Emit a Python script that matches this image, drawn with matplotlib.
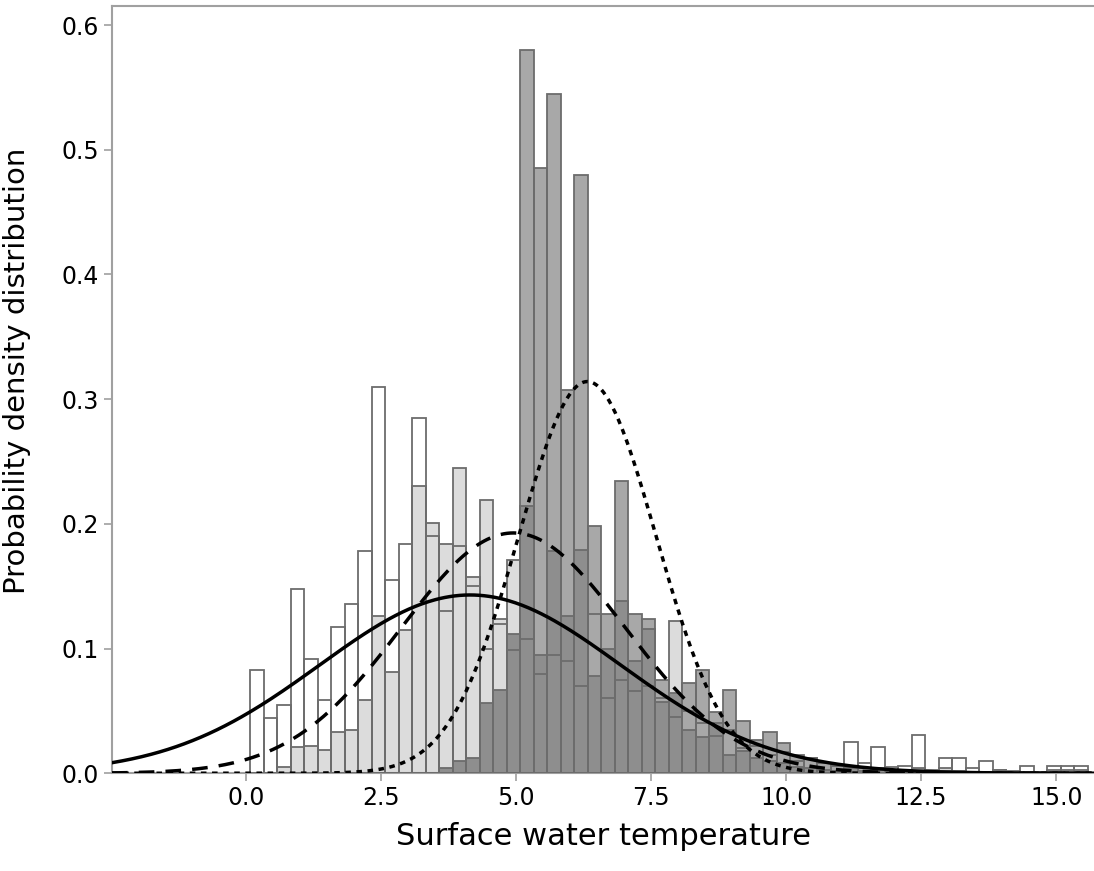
import numpy as np
import matplotlib
matplotlib.use("Agg")
import matplotlib.pyplot as plt

# histogram densities, one value per 0.25-wide bin starting at 0.08
white_density = [
    0.083, 0.044, 0.055, 0.148, 0.092, 0.059, 0.117, 0.136, 0.178, 0.310,
    0.155, 0.184, 0.285, 0.190, 0.130, 0.182, 0.150, 0.100, 0.120, 0.099,
    0.108, 0.080, 0.095, 0.090, 0.070, 0.128, 0.060, 0.075, 0.066, 0.070,
    0.060, 0.045, 0.050, 0.040, 0.030, 0.035, 0.020, 0.022, 0.015, 0.017,
    0.010, 0.012, 0.008, 0.006, 0.025, 0.008, 0.021, 0.005, 0.006, 0.031,
    0.003, 0.012, 0.012, 0.004, 0.010, 0.003, 0.002, 0.006, 0.001, 0.006,
    0.006, 0.006,
]
light_density = [
    0.000, 0.000, 0.005, 0.021, 0.022, 0.019, 0.033, 0.035, 0.059, 0.126,
    0.081, 0.115, 0.230, 0.201, 0.184, 0.245, 0.157, 0.219, 0.124, 0.171,
    0.214, 0.095, 0.178, 0.126, 0.179, 0.078, 0.100, 0.138, 0.090, 0.116,
    0.057, 0.122, 0.035, 0.029, 0.040, 0.015, 0.018, 0.012, 0.010, 0.008,
    0.005, 0.004, 0.003, 0.002, 0.004, 0.002, 0.003, 0.000, 0.000, 0.000,
    0.000, 0.004, 0.000, 0.000, 0.000, 0.003, 0.000, 0.000, 0.000, 0.003,
    0.003, 0.003,
]
dark_density = [
    0.000, 0.000, 0.000, 0.000, 0.000, 0.000, 0.000, 0.000, 0.000, 0.000,
    0.000, 0.000, 0.000, 0.000, 0.004, 0.010, 0.012, 0.056, 0.067, 0.112,
    0.580, 0.485, 0.545, 0.307, 0.480, 0.198, 0.128, 0.234, 0.128, 0.124,
    0.075, 0.064, 0.072, 0.083, 0.049, 0.067, 0.042, 0.027, 0.033, 0.024,
    0.015, 0.012, 0.008, 0.006, 0.005, 0.004, 0.004, 0.003, 0.003, 0.004,
    0.002, 0.002, 0.002, 0.001, 0.001, 0.001, 0.001, 0.001, 0.001, 0.001,
    0.001, 0.001,
]
first_edge = 0.08
bin_width = 0.25

# fitted normal curves (mean, sd)
solid_fit = (4.15, 2.79)
longdash_fit = (4.95, 2.07)
shortdash_fit = (6.32, 1.27)

x_ticks = [0.0, 2.5, 5.0, 7.5, 10.0, 12.5, 15.0]
y_ticks = [0.0, 0.1, 0.2, 0.3, 0.4, 0.5, 0.6]


def normal_pdf(x, mu, sd):
    return np.exp(-0.5 * ((x - mu) / sd) ** 2) / (sd * np.sqrt(2 * np.pi))


fig = plt.figure(figsize=(10.94, 8.71), dpi=100)
ax = fig.add_axes([0.1024, 0.1122, 0.8976, 0.8809])

left = first_edge + bin_width * np.arange(len(white_density))
white = np.array(white_density)
light = np.array(light_density)
dark = np.array(dark_density)
edge = "#6c6c6c"

ax.bar(left, white, width=bin_width, align="edge", color="white", linewidth=0, zorder=1)
ax.bar(left, light, width=bin_width, align="edge", color="#dcdcdc", linewidth=0, zorder=2)
ax.bar(left, dark, width=bin_width, align="edge", color="#a8a8a8", linewidth=0, zorder=3)
# overlap of the two grey groups looks darker
ax.bar(left, np.minimum(light, dark), width=bin_width, align="edge",
       color="#8e8e8e", linewidth=0, zorder=4)
for vals in (white, light, dark):
    ax.bar(left, vals, width=bin_width, align="edge", fill=False,
           edgecolor=edge, linewidth=1.3, zorder=5)

xs = np.linspace(-2.48, 15.7, 600)
ax.plot(xs, normal_pdf(xs, *solid_fit), color="black", lw=2.5, zorder=6)
ax.plot(xs, normal_pdf(xs, *longdash_fit), color="black", lw=2.5,
        dashes=(4.5, 3.2), zorder=6)
ax.plot(xs, normal_pdf(xs, *shortdash_fit), color="black", lw=2.5,
        dashes=(1.6, 1.6), zorder=6)

ax.set_xlim(-2.48, 15.7)
ax.set_ylim(0, 0.6153)
ax.set_xticks(x_ticks)
ax.set_xticklabels([f"{t:.1f}" for t in x_ticks])
ax.set_yticks(y_ticks)
ax.set_yticklabels([f"{t:.1f}" for t in y_ticks])

for s in ("left", "top", "bottom"):
    ax.spines[s].set_color("#a0a0a0")
    ax.spines[s].set_linewidth(1.5)
ax.spines["right"].set_visible(False)
ax.tick_params(axis="both", colors="#a0a0a0", length=6, width=1.2,
               labelcolor="black", labelsize=17)

ax.set_xlabel("Surface water temperature", fontsize=22, labelpad=8)
ax.set_ylabel("Probability density distribution", fontsize=21)
ax.yaxis.set_label_coords(-0.083, 0.525)

fig.savefig("out.png", dpi=100)
